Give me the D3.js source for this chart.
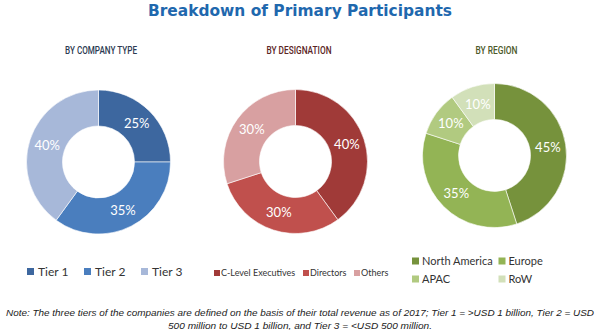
<!DOCTYPE html>
<html><head><meta charset="utf-8">
<script src="https://cdn.jsdelivr.net/npm/d3@7"></script>
<style>body{margin:0;background:#fff}svg{display:block}</style>
</head><body>
<svg id="c" width="600" height="330"></svg>
<script>
const title = "Breakdown of Primary Participants";
const companyCats = ["Tier 1","Tier 2","Tier 3"];
const companyVals = [25,35,40];
const designationCats = ["C-Level Executives","Directors","Others"];
const designationVals = [40,30,30];
const regionCats = ["North America","Europe","APAC","RoW"];
const regionVals = [45,35,10,10];
const noteLines = ["Note: The three tiers of the companies are defined on the basis of their total revenue as of 2017; Tier 1 = >USD 1 billion, Tier 2 = USD",
  "500 million to USD 1 billion, and Tier 3 = <USD 500 million."];

const svg = d3.select("#c");
svg.append("text").attr("x",300).attr("y",16).attr("text-anchor","middle")
  .attr("font-family","'DejaVu Sans', sans-serif").attr("font-weight","bold").attr("font-size",15)
  .attr("fill","#1f68ae").attr("textLength",304).attr("lengthAdjust","spacingAndGlyphs").text(title);

const charts = [
  {sub:"BY COMPANY TYPE", subColor:"#2c3a52", subX:101, subW:72, cx:98.5, cy:162, cats:companyCats, vals:companyVals,
   colors:["#3d679f","#4a7ebe","#a7b8d9"]},
  {sub:"BY DESIGNATION", subColor:"#5a2424", subX:299, subW:65, cx:295.5, cy:161.5, cats:designationCats, vals:designationVals,
   colors:["#a03a38","#c0504d","#d8a0a1"]},
  {sub:"BY REGION", subColor:"#4c5a2a", subX:496.5, subW:42, cx:494.5, cy:155.5, cats:regionCats, vals:regionVals,
   colors:["#76923c","#93b455","#b1ca80","#d2e0b9"]}
];
const pie = d3.pie().sort(null).value(d=>d);
const arc = d3.arc().innerRadius(36).outerRadius(72);
charts.forEach(ch=>{
  svg.append("text").attr("x",ch.subX).attr("y",54).attr("text-anchor","middle")
    .attr("font-family","Roboto, 'Liberation Sans', sans-serif").attr("font-weight",500).attr("font-size",10)
    .attr("fill",ch.subColor).attr("textLength",ch.subW).attr("lengthAdjust","spacingAndGlyphs").text(ch.sub);
  const g = svg.append("g").attr("transform",`translate(${ch.cx},${ch.cy})`);
  const arcs = pie(ch.vals);
  g.selectAll("path").data(arcs).join("path").attr("d",arc)
    .attr("fill",(d,i)=>ch.colors[i]).attr("stroke","#fff").attr("stroke-width",0.6);
  g.selectAll("text").data(arcs).join("text")
    .attr("transform",d=>`translate(${arc.centroid(d)})`)
    .attr("text-anchor","middle").attr("dy","0.35em")
    .attr("font-family","Lato, 'Open Sans', sans-serif").attr("font-size",13)
    .attr("fill","#fff").text(d=>d.data+"%");
});

function legendItem(x,y,size,color,label,fs,tx){
  svg.append("rect").attr("x",x).attr("y",y-size/2).attr("width",size).attr("height",size).attr("fill",color);
  svg.append("text").attr("x",tx).attr("y",y).attr("dy","0.35em")
    .attr("font-family","Lato, 'Open Sans', sans-serif").attr("font-size",fs).attr("fill","#333").text(label);
}
const tierX = [27,84,141];
companyCats.forEach((c,i)=>legendItem(tierX[i],271.5,7,charts[0].colors[i],c,12,tierX[i]+11));
const desX = [214,303,354];
designationCats.forEach((c,i)=>legendItem(desX[i],273,6,charts[1].colors[i],c,9,desX[i]+7));
const regPos = [[412,261],[498.5,261],[412,279],[498.5,279]];
regionCats.forEach((c,i)=>legendItem(regPos[i][0],regPos[i][1],7,charts[2].colors[i],c,11,regPos[i][0]+10));

const noteW = [588,264];
noteLines.forEach((t,i)=>{
  svg.append("text").attr("x",300).attr("y",316+i*12.5).attr("text-anchor","middle")
    .attr("font-family","'Liberation Sans', Arial, sans-serif").attr("font-style","italic").attr("font-size",9.2)
    .attr("fill","#222").attr("textLength",noteW[i]).attr("lengthAdjust","spacingAndGlyphs").text(t);
});
</script>
</body></html>
